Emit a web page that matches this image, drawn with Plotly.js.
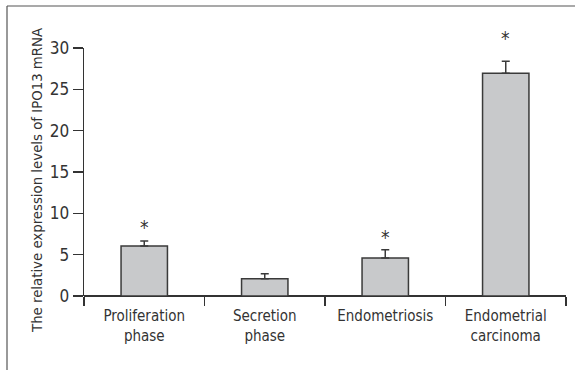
<!DOCTYPE html>
<html>
<head>
<meta charset="utf-8">
<script src="https://cdn.plot.ly/plotly-3.0.1.min.js"></script>
<style>html,body{margin:0;padding:0;background:#fff;}#chart{width:575px;height:370px;}</style>
</head>
<body>
<div id="chart"></div>
<script>
const categories = ["Proliferation<br>phase", "Secretion<br>phase", "Endometriosis", "Endometrial<br>carcinoma"];
const values = [6.05, 2.1, 4.6, 26.95];
const errors = [0.6, 0.6, 1.0, 1.45];
const starLabels = ["*", "", "*", "*"];
const starY = [8.4, null, 7.1, 31.2];
const yTicks = [0, 5, 10, 15, 20, 25, 30];
const yRange = [0, 30];
const yTitle = 'The relative expression levels of IPO13 mRNA';

const fontFam = '"DejaVu Sans Condensed", "Liberation Sans Narrow", sans-serif';

const barTrace = {
  type: 'bar',
  x: categories,
  y: values,
  width: 0.385,
  marker: {color: '#c8c9cb', line: {color: '#3a3a3a', width: 1.5}},
  error_y: {type: 'data', symmetric: false, array: errors, arrayminus: errors.map(() => 0),
            color: '#3a3a3a', thickness: 1.5, width: 4},
  hoverinfo: 'none',
  cliponaxis: false
};

// stars: x on the category axis, y converted through the linear y range (paper fraction)
const starAnnotations = categories.map((c, i) => ({
  x: c, xref: 'x',
  y: starY[i] === null ? 0 : (starY[i] - yRange[0]) / (yRange[1] - yRange[0]), yref: 'paper',
  text: starLabels[i], showarrow: false,
  font: {family: fontFam, size: 19, color: '#333'}, yanchor: 'middle', xanchor: 'center'
})).filter(a => a.text !== "");

const titleAnnotation = {
  text: yTitle, xref: 'paper', yref: 'paper',
  x: (36 - 84) / 482, y: (296 - 181) / 248, xanchor: 'center', yanchor: 'middle',
  textangle: -90, showarrow: false,
  font: {family: fontFam, size: 14.8, color: '#333'}
};

const layout = {
  width: 575, height: 370,
  margin: {l: 84, r: 9, t: 48, b: 74},
  paper_bgcolor: '#fff', plot_bgcolor: '#fff',
  showlegend: false,
  font: {family: fontFam, size: 15, color: '#333'},
  xaxis: {
    type: 'category',
    tickson: 'boundaries',
    ticks: 'outside', ticklen: 9, tickwidth: 1.3, tickcolor: '#333',
    ticklabelstandoff: 9,
    showline: false, showgrid: false, zeroline: false,
    tickfont: {family: fontFam, size: 15, color: '#333'},
    range: [-0.5, 3.5]
  },
  yaxis: {
    range: yRange,
    tickvals: yTicks,
    ticktext: yTicks.map(String),
    ticks: 'outside', ticklen: 10, tickwidth: 1.3, tickcolor: '#333',
    showline: true, linecolor: '#333', linewidth: 1.3,
    showgrid: false, zeroline: true, zerolinecolor: '#333', zerolinewidth: 1.3,
    tickfont: {family: fontFam, size: 17, color: '#333'}
  },
  annotations: starAnnotations.concat([titleAnnotation]),
  shapes: [
    {type: 'line', xref: 'paper', yref: 'paper',
     x0: (7 - 84) / 482, x1: (600 - 84) / 482, y0: (370 - 74 - 6) / 248, y1: (370 - 74 - 6) / 248,
     line: {color: '#555', width: 1.2}},
    {type: 'line', xref: 'paper', yref: 'paper',
     x0: (7 - 84) / 482, x1: (7 - 84) / 482, y0: (370 - 74 - 6) / 248, y1: -1,
     line: {color: '#555', width: 1.2}}
  ]
};

Plotly.newPlot('chart', [barTrace], layout, {displayModeBar: false, staticPlot: true});
</script>
</body>
</html>
